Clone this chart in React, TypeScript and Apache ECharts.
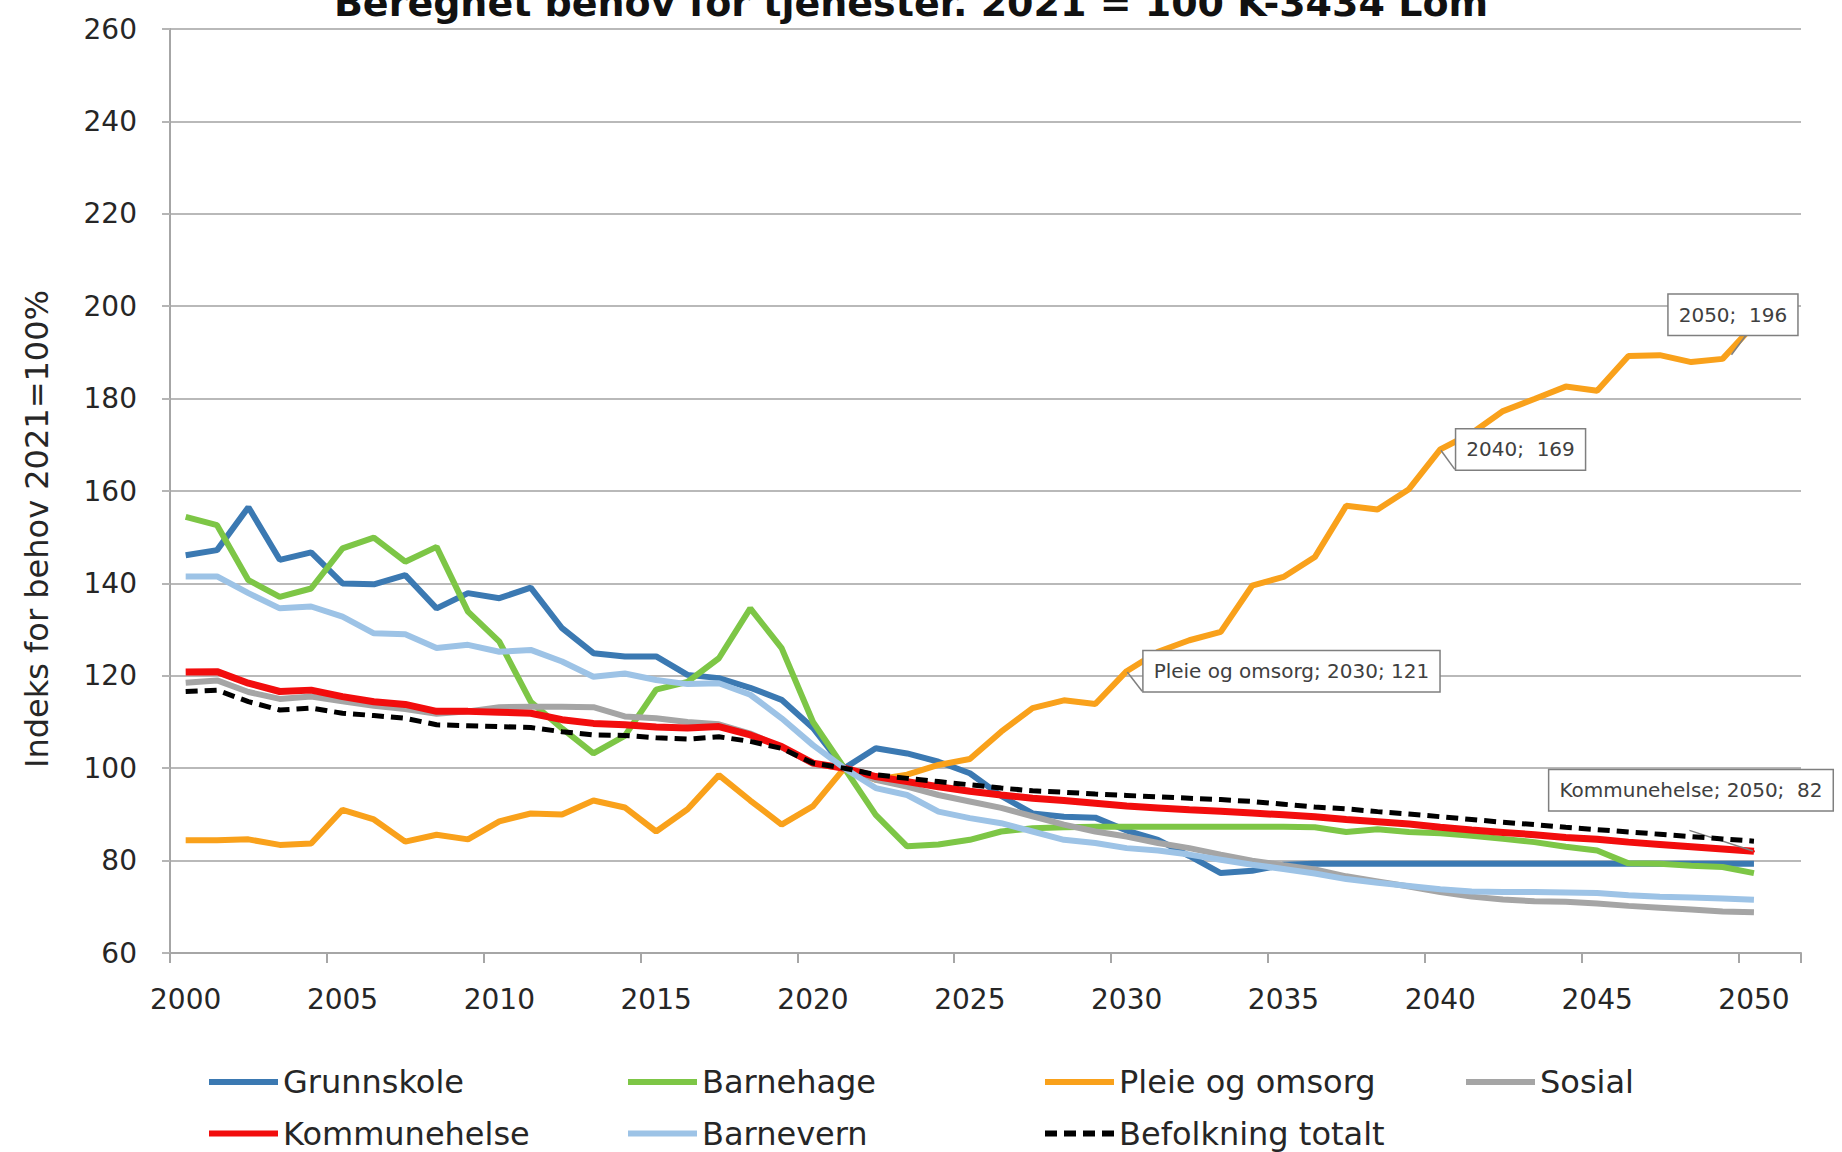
import React, { useEffect, useRef } from "react";
import * as echarts from "echarts";

const FONT = "DejaVu Sans";

const TITLE = "Beregnet behov for tjenester. 2021 = 100 K-3434 Lom";
const Y_NAME = "Indeks for behov 2021=100%";

const years = [
  "2000","2001","2002","2003","2004","2005","2006","2007","2008","2009",
  "2010","2011","2012","2013","2014","2015","2016","2017","2018","2019",
  "2020","2021","2022","2023","2024","2025","2026","2027","2028","2029",
  "2030","2031","2032","2033","2034","2035","2036","2037","2038","2039",
  "2040","2041","2042","2043","2044","2045","2046","2047","2048","2049",
  "2050","2051",
];

const grunnskole = [
  146.1, 147.2, 156.5, 145.1, 146.7, 140.0, 139.8, 141.8, 134.6, 137.9,
  136.8, 139.1, 130.3, 124.9, 124.2, 124.2, 120.2, 119.5, 117.4, 114.8,
  108.7, 100.0, 104.3, 103.2, 101.4, 98.9, 94.0, 90.2, 89.5, 89.3,
  86.5, 84.5, 81.0, 77.3, 77.8, 79.1, 79.3, 79.3, 79.3, 79.3,
  79.3, 79.3, 79.3, 79.3, 79.3, 79.3, 79.3, 79.3, 79.3, 79.3,
  79.3,
];

const barnehage = [
  154.4, 152.6, 140.7, 137.1, 138.9, 147.6, 149.9, 144.7, 147.9, 133.9,
  127.4, 114.4, 108.6, 103.2, 107.0, 117.0, 118.7, 123.8, 134.6, 126.0,
  110.0, 100.0, 89.9, 83.1, 83.5, 84.5, 86.3, 87.0, 87.2, 87.3,
  87.3, 87.3, 87.3, 87.3, 87.3, 87.3, 87.2, 86.2, 86.8, 86.2,
  85.9, 85.4, 84.7, 84.0, 83.0, 82.2, 79.4, 79.3, 78.9, 78.6,
  77.3,
];

const pleieOgOmsorg = [
  84.4, 84.4, 84.6, 83.4, 83.7, 91.0, 88.9, 84.1, 85.6, 84.6,
  88.5, 90.2, 90.0, 93.0, 91.5, 86.3, 91.1, 98.5, 93.0, 87.8,
  91.8, 100.0, 97.5, 98.6, 100.7, 102.0, 107.9, 113.0, 114.7, 113.9,
  121.0, 125.2, 127.7, 129.5, 139.5, 141.4, 145.7, 156.8, 156.0, 160.4,
  169.0, 172.5, 177.3, 179.9, 182.6, 181.7, 189.2, 189.4, 187.9, 188.6,
  196.0,
];

const sosial = [
  118.5, 119.0, 116.5, 115.0, 115.5, 114.5, 113.5, 112.8, 111.8, 112.3,
  113.2, 113.3, 113.3, 113.2, 111.2, 110.8, 110.0, 109.5, 107.5, 104.5,
  101.0, 100.0, 97.5, 96.0, 94.2, 92.8, 91.4, 89.6, 87.8, 86.3,
  85.2, 83.8, 82.7, 81.3, 80.0, 79.0, 78.1, 76.6, 75.5, 74.4,
  73.2, 72.2, 71.6, 71.2, 71.1, 70.7, 70.2, 69.8, 69.4, 69.0,
  68.8,
];

const kommunehelse = [
  120.8, 120.9, 118.4, 116.6, 116.9, 115.5, 114.4, 113.8, 112.3, 112.3,
  112.1, 111.9, 110.5, 109.7, 109.4, 108.9, 108.7, 109.0, 107.2, 104.7,
  101.1, 100.0, 98.2, 97.1, 96.0, 95.0, 94.2, 93.5, 93.0, 92.4,
  91.8, 91.4, 91.0, 90.7, 90.3, 89.9, 89.5, 88.9, 88.4, 87.9,
  87.2, 86.6, 86.1, 85.6, 85.0, 84.6, 84.0, 83.5, 83.0, 82.5,
  82.0,
];

const barnevern = [
  141.5, 141.5, 137.9, 134.6, 135.0, 132.8, 129.2, 129.0, 126.0, 126.7,
  125.2, 125.6, 123.1, 119.8, 120.5, 119.1, 118.2, 118.4, 115.9, 110.8,
  105.0, 100.0, 95.7, 94.2, 90.6, 89.2, 88.1, 86.3, 84.5, 83.8,
  82.7, 82.2, 81.3, 80.2, 79.1, 78.2, 77.2, 76.0, 75.2, 74.5,
  73.8, 73.3, 73.2, 73.2, 73.1, 73.0, 72.5, 72.2, 72.0, 71.8,
  71.5,
];

const befolkningTotalt = [
  116.6, 116.9, 114.4, 112.6, 113.0, 111.9, 111.4, 110.8, 109.4, 109.2,
  109.0, 108.8, 107.9, 107.2, 107.1, 106.6, 106.3, 106.8, 105.8, 104.3,
  101.1, 100.0, 98.6, 97.8, 97.1, 96.4, 95.7, 95.1, 94.8, 94.4,
  94.1, 93.8, 93.5, 93.2, 92.8, 92.2, 91.6, 91.2, 90.6, 90.1,
  89.5, 88.9, 88.3, 87.8, 87.2, 86.7, 86.2, 85.7, 85.2, 84.7,
  84.2,
];

const seriesNames = [
  "Grunnskole",
  "Barnehage",
  "Pleie og omsorg",
  "Sosial",
  "Kommunehelse",
  "Barnevern",
  "Befolkning totalt",
];

// annotated points: series, year, whether series name is shown
const annotations = [
  { series: "Pleie og omsorg", year: "2030", withName: true },
  { series: "Pleie og omsorg", year: "2040", withName: false },
  { series: "Pleie og omsorg", year: "2050", withName: false },
  { series: "Kommunehelse", year: "2050", withName: true },
];

const labelPlacement: Record<string, any> = {
  "Pleie og omsorg|2030": { position: "right", distance: 16 },
  "Pleie og omsorg|2040": { position: "right", distance: 15 },
  "Pleie og omsorg|2050": { position: "top", distance: 0, offset: [-21, 11] },
  "Kommunehelse|2050": { position: "top", distance: 0, offset: [-63, -40] },
};

function App() {
  const ref = useRef<HTMLDivElement>(null);

  useEffect(() => {
    document.body.style.margin = "0";
    if (!ref.current) return;
    const chart = echarts.init(ref.current, undefined, { renderer: "svg" });

    const valuesByName: Record<string, number[]> = {
      Grunnskole: grunnskole,
      Barnehage: barnehage,
      "Pleie og omsorg": pleieOgOmsorg,
      Sosial: sosial,
      Kommunehelse: kommunehelse,
      Barnevern: barnevern,
      "Befolkning totalt": befolkningTotalt,
    };
    const colors: Record<string, string> = {
      Grunnskole: "#3b79b2",
      Barnehage: "#7dc646",
      "Pleie og omsorg": "#f9a11b",
      Sosial: "#a5a5a5",
      Kommunehelse: "#f20d0d",
      Barnevern: "#9dc3e6",
      "Befolkning totalt": "#000000",
    };
    const widths: Record<string, number> = {
      Grunnskole: 6,
      Barnehage: 6,
      "Pleie og omsorg": 6,
      Sosial: 6,
      Kommunehelse: 7,
      Barnevern: 6,
      "Befolkning totalt": 5,
    };

    const buildData = (name: string) =>
      valuesByName[name].map((v, i) => {
        const ann = annotations.find((a) => a.series === name && a.year === years[i]);
        if (!ann) return v;
        const text =
          (ann.withName ? name + "; " : "") +
          years[i] +
          (ann.withName && name !== "Kommunehelse" ? "; " : ";  ") +
          Math.round(v);
        return {
          value: v,
          symbol: "circle",
          symbolSize: 2,
          label: {
            show: true,
            formatter: text,
            color: "#404040",
            fontFamily: FONT,
            fontSize: 20,
            lineHeight: 22,
            backgroundColor: "#ffffff",
            borderColor: "#7f7f7f",
            borderWidth: 1.5,
            padding: [9, 10, 9, 10],
            ...labelPlacement[name + "|" + years[i]],
          },
          labelLine: {
            show: true,
            lineStyle: { color: "#7f7f7f", width: 1.5 },
          },
        };
      });

    const series = seriesNames.map((name) => ({
      name,
      type: "line",
      data: buildData(name),
      symbol: "none",
      showSymbol: true,
      color: colors[name],
      lineStyle: {
        color: colors[name],
        width: widths[name],
        type: name === "Befolkning totalt" ? [12, 7] : "solid",
      },
      itemStyle: { color: colors[name] },
      emphasis: { disabled: true },
      z: name === "Befolkning totalt" ? 3 : 2,
    }));

    const legendBase = {
      orient: "vertical",
      top: 1066,
      itemWidth: 69,
      itemHeight: 6,
      itemGap: 19.5,
      padding: 0,
      itemStyle: { opacity: 0 },
      lineStyle: { width: 6 },
      textStyle: { fontSize: 32, color: "#262626", fontFamily: FONT, lineHeight: 32 },
    };

    chart.setOption({
      animation: false,
      textStyle: { fontFamily: FONT },
      grid: { left: 170, right: 41, top: 29, bottom: 199, containLabel: false },
      graphic: [
        {
          type: "text",
          x: 911,
          y: 3,
          style: {
            text: TITLE,
            font: "bold 38px '" + FONT + "'",
            fill: "#111111",
            textAlign: "center",
            textVerticalAlign: "middle",
            align: "center",
            verticalAlign: "middle",
          },
        },
        {
          type: "text",
          x: 37,
          y: 529,
          rotation: Math.PI / 2,
          style: {
            text: Y_NAME,
            font: "32px '" + FONT + "'",
            fill: "#262626",
            textAlign: "center",
            textVerticalAlign: "middle",
            align: "center",
            verticalAlign: "middle",
          },
        },
      ],
      legend: [
        { ...legendBase, left: 206, data: ["Grunnskole", "Kommunehelse"] },
        { ...legendBase, left: 625, data: ["Barnehage", "Barnevern"] },
        { ...legendBase, left: 1042, data: ["Pleie og omsorg", "Befolkning totalt"] },
        { ...legendBase, left: 1463, data: ["Sosial"] },
      ],
      xAxis: {
        type: "category",
        data: years,
        boundaryGap: true,
        axisLine: { show: true, lineStyle: { color: "#a6a6a6", width: 2 } },
        axisTick: { show: true, interval: 4, length: 10, lineStyle: { color: "#a6a6a6", width: 2 } },
        axisLabel: { interval: 4, margin: 32, fontSize: 28, color: "#262626", fontFamily: FONT },
        splitLine: { show: false },
      },
      yAxis: {
        type: "value",
        min: 60,
        max: 260,
        interval: 20,
        axisLine: { show: true, lineStyle: { color: "#a6a6a6", width: 2 } },
        axisTick: { show: true, length: 8, lineStyle: { color: "#b5b5b5", width: 2 } },
        axisLabel: { margin: 33, fontSize: 28, color: "#262626", fontFamily: FONT },
        splitLine: { show: true, lineStyle: { color: "#b9b9b9", width: 2 } },
      },
      series,
    });

    return () => chart.dispose();
  }, []);

  return <div ref={ref} style={{ width: 1842, height: 1152 }} />;
}

export default App;
